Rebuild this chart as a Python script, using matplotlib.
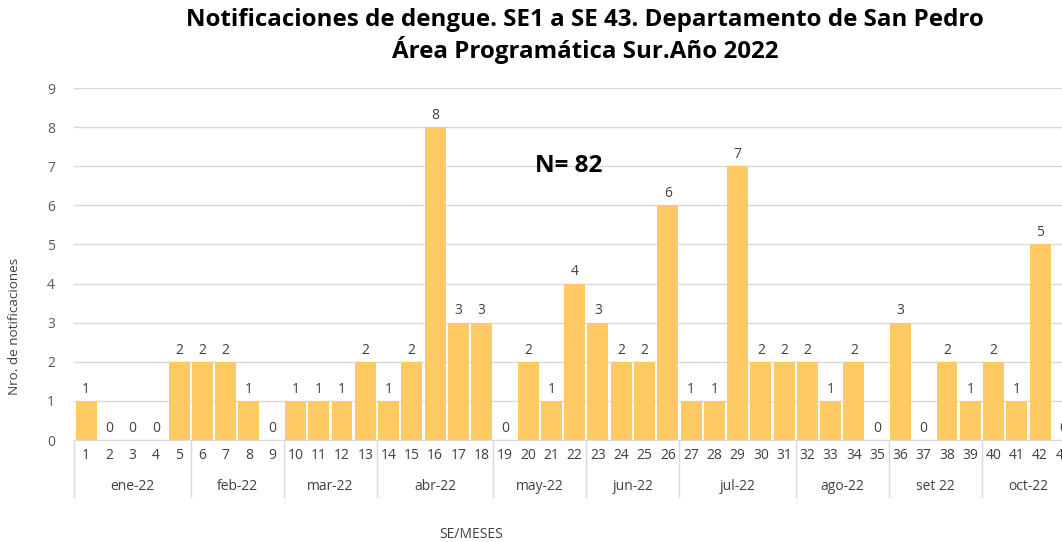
import matplotlib.pyplot as plt
import matplotlib.transforms as mtransforms

plt.rcParams["font.family"] = ["Open Sans", "DejaVu Sans"]

# epidemiological weeks 1..43 and weekly notifications
weeks = [str(i) for i in range(1, 44)]
cases = [1, 0, 0, 0, 2, 2, 2, 1, 0, 1, 1, 1, 2, 1, 2, 8, 3, 3, 0, 2, 1, 4,
         3, 2, 2, 6, 1, 1, 7, 2, 2, 2, 1, 2, 0, 3, 0, 2, 1, 2, 1, 5, 0]
months = ["ene-22", "feb-22", "mar-22", "abr-22", "may-22", "jun-22",
          "jul-22", "ago-22", "set 22", "oct-22"]
weeks_per_month = [5, 4, 4, 5, 4, 4, 5, 4, 4, 4]

BAR = "#FFCA64"
GRID = "#D9D9D9"
TXT = "#404040"

fig = plt.figure(figsize=(10.62, 5.42), dpi=100)
ax = fig.add_axes([74.4 / 1062, 102 / 542, (1075 - 74.4) / 1062, 352 / 542])

x = list(range(len(weeks)))
ax.bar(x, cases, width=0.9, color=BAR, zorder=3)
for xi, v in zip(x, cases):
    ax.annotate(str(v), (xi, v), xytext=(0, 3), textcoords="offset points",
                ha="center", va="bottom", fontsize=10, color=TXT)

ax.set_xlim(-0.5, len(weeks) - 0.5)
ax.set_ylim(0, 9)
ax.set_yticks(range(10))
ax.yaxis.grid(True, color=GRID, linewidth=1, zorder=0)
ax.tick_params(axis="y", length=0, pad=14, labelsize=10, labelcolor="#595959")
ax.set_xticks(x)
ax.set_xticklabels(weeks)
ax.tick_params(axis="x", length=0, pad=6, labelsize=10, labelcolor=TXT)
for s in ["top", "right", "left"]:
    ax.spines[s].set_visible(False)
ax.spines["bottom"].set_color(GRID)

# month groups below the week labels
trans = mtransforms.blended_transform_factory(ax.transData, ax.transAxes)
start = -0.5
ax.plot([start, start], [0, -0.162], color=GRID, lw=1, transform=trans, clip_on=False)
for name, n in zip(months, weeks_per_month):
    end = start + n
    ax.plot([end, end], [0, -0.162], color=GRID, lw=1, transform=trans, clip_on=False)
    ax.text((start + end) / 2, -0.133, name, transform=trans, ha="center",
            va="center", fontsize=10, color=TXT)
    start = end

ax.text(20.75, 7.0, "N= 82", ha="center", va="center", fontsize=17.5,
        fontweight="bold", color="black")

fig.text(15 / 1062, 1 - 326 / 542, "Nro. de notificaciones", rotation=90,
         ha="center", va="center", fontsize=9.7, color=TXT)
fig.text(471 / 1062, 1 - 534 / 542, "SE/MESES", ha="center", va="center",
         fontsize=10, color=TXT)
fig.text(585 / 1062, 1 - 36 / 542,
         "Notificaciones de dengue. SE1 a SE 43. Departamento de San Pedro\n"
         "Área Programática Sur.Año 2022",
         ha="center", va="center", fontsize=17.4, fontweight="bold",
         color="black", linespacing=1.15)

fig.savefig("out.png", dpi=100)
